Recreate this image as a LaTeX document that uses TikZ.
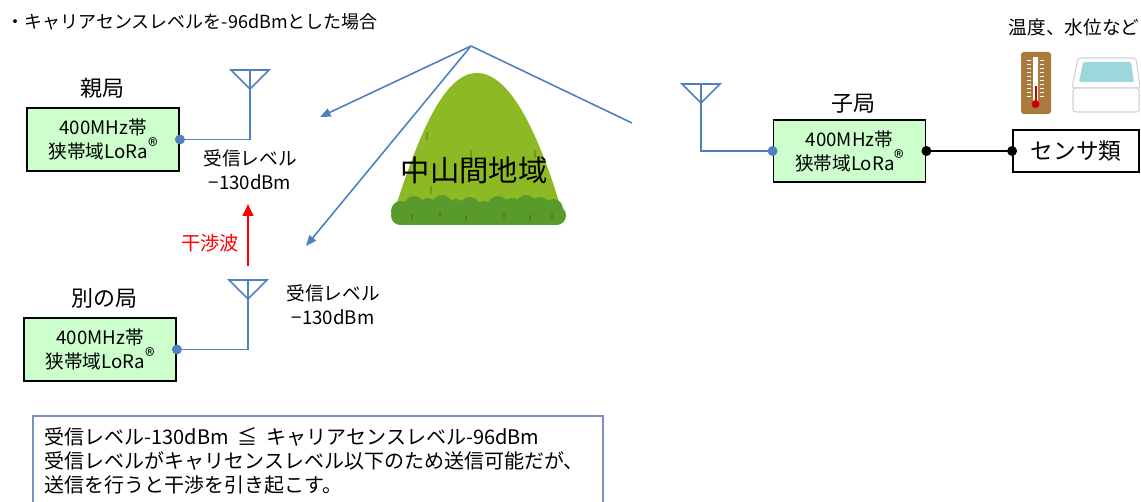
\documentclass[tikz,border=0pt]{standalone}
\usepackage{fontspec}
\setmainfont{Noto Sans CJK JP}
\usepackage{xcolor}
\usepackage{tikz}
\usetikzlibrary{arrows.meta}

\definecolor{wireblue}{RGB}{79,129,189}
\definecolor{boxgreen}{RGB}{204,255,204}
\definecolor{hill}{RGB}{141,186,36}
\definecolor{hilldark}{RGB}{108,158,30}
\definecolor{bush}{RGB}{88,155,44}
\definecolor{wood}{RGB}{170,122,62}
\definecolor{water}{RGB}{158,214,222}
\definecolor{noteline}{RGB}{118,146,186}

\newcommand{\lora}{狭帯域LoRa{\fontsize{15}{15}\selectfont\raisebox{0.45ex}{®}}}

\begin{document}
\begin{tikzpicture}[x=0.75pt,y=-0.75pt,font=\fontsize{14}{18}\selectfont,
  radio/.style={draw,line width=1.4pt,fill=boxgreen,align=center,
    minimum width=114pt,minimum height=47pt,inner sep=0pt},
  wire/.style={wireblue,line width=1.4pt},
  ray/.style={wireblue,line width=1.2pt},
  dot/.style={circle,fill,inner sep=0pt,minimum size=7.5pt}]
  \clip (0,0) rectangle (1141,502);

  % Heading
  \node[anchor=west,font=\fontsize{13.5}{16}\selectfont] (title) at (2,22)
    {・キャリアセンスレベルを-96dBmとした場合};

  % Mountain between the stations
  \begin{scope}
    \fill[hill] (394,212) .. controls (420,130) and (445,73) .. (477,73)
      .. controls (509,73) and (538,130) .. (562,212) -- cycle;
    \foreach \x/\y in {427/132,471/150,535/150,431/186}
      \draw[hilldark,line width=1.4pt] (\x,\y) -- (\x,\y+8);
    \fill[bush,rounded corners=7] (391,206) rectangle (566,225);
    \foreach \x/\y in {401/211,414/206,428/208,442/205,456/209,470/207,484/211,
      498/206,512/208,526/205,540/207,553/209}
      \fill[bush] (\x,\y) circle (10);
    \foreach \x/\y in {412/214,440/212,466/216,504/213,530/215,552/214}
      \draw[hilldark!80!black,line width=1pt] (\x,\y) -- (\x,\y+5);
    \node[font=\fontsize{22}{26}\selectfont] (region) at (474,170) {中山間地域};
  \end{scope}

  % Antennas: Y-shaped masts
  \foreach \nm/\ax/\ay in {antA/250/70, antB/248/280, antC/701/84} {
    \coordinate (\nm-top) at (\ax,\ay);
    \draw[wire,line width=1.2pt] (\ax-19,\ay) -- (\ax+19,\ay) -- (\ax,\ay+19) -- cycle;
  }

  % Master station
  \node[font=\fontsize{16.5}{20}\selectfont] (masterlbl) at (102,88) {親局};
  \node[radio] (master) at (103,139.5) {400MHz帯\\\lora};
  \draw[wire] (master.east) -| (antA-top);
  \node[dot,wireblue] (masterdot) at (master.east) {};
  \node[align=center] (rxA) at (250,170) {受信レベル\\−130dBm};

  % Other station
  \node[font=\fontsize{16.5}{20}\selectfont] (otherlbl) at (104,298) {別の局};
  \node[radio] (other) at (100,349.5) {400MHz帯\\\lora};
  \draw[wire] (other.east) -| (antB-top);
  \node[dot,wireblue] (otherdot) at (other.east) {};
  \node[align=center] (rxB) at (333,305) {受信レベル\\−130dBm};

  % Interference from the other station
  \coordinate (jamfoot) at (248,266);
  \coordinate (jamtip) at (248,204);
  \draw[red,line width=1.5pt,-{Triangle[length=9pt,width=8pt]}] (jamfoot) -- (jamtip);
  \node[red,font=\fontsize{14.5}{18}\selectfont] (jam) at (210,243) {干渉波};

  % Child station and sensors
  \node[font=\fontsize{16.5}{20}\selectfont] (childlbl) at (853,104) {子局};
  \node[radio] (child) at (849.5,151) {400MHz帯\\\lora};
  \draw[wire] (child.west) -| (antC-top);
  \node[dot,wireblue] (childdot) at (child.west) {};
  \node[draw,line width=1.4pt,minimum width=94.5pt,minimum height=31.5pt,
    font=\fontsize{17}{20}\selectfont] (sensor) at (1076,151) {センサ類};
  \draw[line width=1.4pt] (child.east) -- (sensor.west);
  \node[dot] (childout) at (child.east) {};
  \node[dot] (sensorin) at (sensor.west) {};
  \node (sensorlbl) at (1074,27) {温度、水位など};

  % Thermometer
  \fill[wood,rounded corners=2] (1021,52) rectangle (1051,114);
  \fill[white] (1033,57) rectangle (1038,102);
  \foreach \y in {60,64,...,96} {
    \draw[white,line width=0.6pt] (1027,\y) -- (1031,\y);
    \draw[white,line width=0.6pt] (1040,\y) -- (1044,\y);
  }
  \fill[red!80!black] (1034.5,86) -- (1036.5,86) -- (1036.5,102) -- (1034.5,102) -- cycle;
  \fill[red!80!black] (1035.5,104) circle (4);

  % Bathtub
  \filldraw[fill=white,draw=gray!35,line width=0.8pt,rounded corners=2]
    (1078,58) -- (1136,58) -- (1140,88) -- (1072,88) -- cycle;
  \fill[water,rounded corners=1] (1083,62) -- (1131,62) -- (1134,82) -- (1079,82) -- cycle;
  \filldraw[fill=white,draw=gray!35,line width=0.8pt,rounded corners=2]
    (1073,88) rectangle (1139,112);

  % Radio paths over the mountain
  \coordinate (src) at (471,46);
  \coordinate (hitA) at (320,117);
  \coordinate (hitB) at (306,246);
  \coordinate (rayend) at (632,123);
  \draw[ray,-{Triangle[length=8pt,width=6.5pt]}] (src) -- (hitA);
  \draw[ray,-{Triangle[length=8pt,width=6.5pt]}] (src) -- (hitB);
  \draw[ray] (src) -- (rayend);

  % Note box
  \draw[noteline,line width=1.2pt] (33,416) rectangle (603,520);
  \node[anchor=north west,align=left,font=\fontsize{15}{18}\selectfont] (note) at (40,423)
    {受信レベル-130dBm \ ≦ \ キャリアセンスレベル-96dBm\\
     受信レベルがキャリセンスレベル以下のため送信可能だが、\\
     送信を行うと干渉を引き起こす。};
\end{tikzpicture}
\end{document}
